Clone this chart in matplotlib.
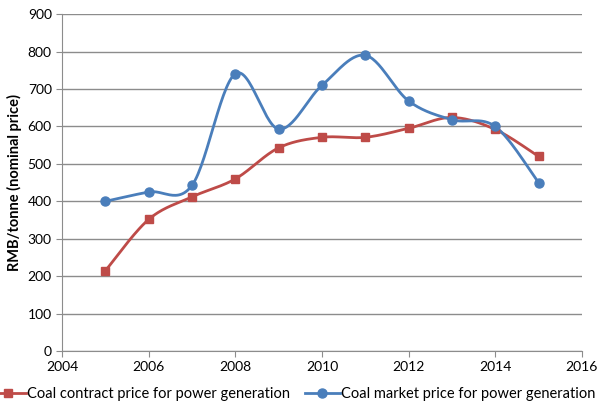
import numpy as np
import matplotlib.pyplot as plt

years = [2005, 2006, 2007, 2008, 2009, 2010, 2011, 2012, 2013, 2014, 2015]
contract = [215, 352, 412, 460, 543, 571, 571, 595, 624, 592, 520]
market = [400, 425, 443, 741, 593, 710, 790, 668, 618, 600, 450]

plt.rcParams['font.family'] = ['Lato', 'DejaVu Sans']


def smooth(x, y, n=30):
    # Excel-style smoothed line: Catmull-Rom through the points as cubic Beziers
    p = np.column_stack([x, y]).astype(float)
    p = np.vstack([p[0], p, p[-1]])
    t = np.linspace(0, 1, n)[:, None]
    out = []
    for i in range(1, len(p) - 2):
        p0, p1, p2, p3 = p[i - 1], p[i], p[i + 1], p[i + 2]
        c1 = p1 + (p2 - p0) / 6
        c2 = p2 - (p3 - p1) / 6
        seg = ((1 - t) ** 3) * p1 + 3 * ((1 - t) ** 2) * t * c1 + 3 * (1 - t) * t ** 2 * c2 + t ** 3 * p2
        out.append(seg if i == 1 else seg[1:])
    seg = np.vstack(out)
    return seg[:, 0], seg[:, 1]


red = '#BE4B48'
blue = '#4A7EBB'

fig = plt.figure(figsize=(5.98, 4.04), dpi=100)
ax = fig.add_axes([0.104, 0.131, 0.869, 0.834])

sx, sy = smooth(years, contract)
ax.plot(sx, sy, color=red, lw=2, zorder=3)
ax.plot(years, contract, ls='none', marker='s', ms=6, color=red, zorder=4)
sx, sy = smooth(years, market)
ax.plot(sx, sy, color=blue, lw=2, zorder=3)
ax.plot(years, market, ls='none', marker='o', ms=6.5, color=blue, zorder=4)

ax.set_xlim(2004, 2016)
ax.set_ylim(0, 900)
ax.set_xticks(range(2004, 2017, 2))
ax.set_yticks(range(0, 901, 100))
ax.yaxis.grid(True, color='#8C8C8C', lw=1)
ax.set_axisbelow(True)
for s in ['top', 'right']:
    ax.spines[s].set_visible(False)
for s in ['left', 'bottom']:
    ax.spines[s].set_color('#8C8C8C')
ax.tick_params(colors='#8C8C8C', labelcolor='black', labelsize=10, length=4)
ax.set_ylabel('RMB/tonne (nominal price)', fontsize=10.5, fontweight='bold', labelpad=4)

h1 = plt.Line2D([], [], color=red, lw=2, marker='s', ms=6)
h2 = plt.Line2D([], [], color=blue, lw=2, marker='o', ms=6.5)
fig.legend([h1, h2], ['Coal contract price for power generation', 'Coal market price for power generation'],
           loc='center', bbox_to_anchor=(0.49, 0.025), ncol=2, frameon=False, fontsize=10.5,
           handlelength=2.4, handletextpad=0.1, columnspacing=1.0, borderpad=0.2)

fig.savefig('out.png', dpi=100)
